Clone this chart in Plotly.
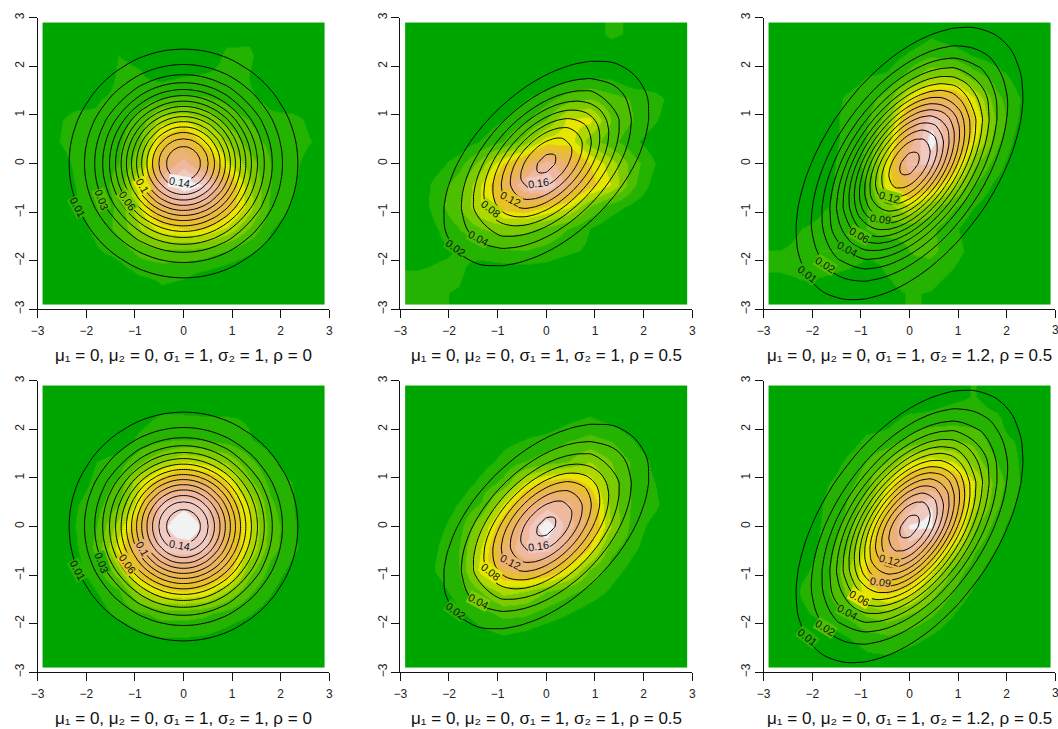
import numpy as np
import plotly.graph_objects as go

# ---- contour surfaces: density read at these grid nodes (rows y = 0 ... 3, the rest mirrors through the centre)
GRID = [-3, -2.5, -2, -1.5, -1, -.75, -.5, -.3, -.15, 0, .15, .3, .5, .75, 1, 1.5, 2, 2.5, 3]

# circular surface: rows y = 0 ... 3, columns x = 0 ... 3 (mirrors left-right as well)
DENS_A_HALF = [
 [.1592,.1574,.1522,.1405,.1202,.0966,.0517,.0215,.0070,.0018],
 [.1574,.1557,.1505,.1389,.1189,.0955,.0511,.0213,.0069,.0018],
 [.1522,.1505,.1455,.1343,.1149,.0923,.0494,.0206,.0067,.0017],
 [.1405,.1389,.1343,.1240,.1061,.0852,.0456,.0190,.0062,.0016],
 [.1202,.1189,.1149,.1061,.0907,.0729,.0390,.0162,.0053,.0014],
 [.0966,.0955,.0923,.0852,.0729,.0586,.0313,.0131,.0042,.0011],
 [.0517,.0511,.0494,.0456,.0390,.0313,.0168,.0070,.0023,.0006],
 [.0215,.0213,.0206,.0190,.0162,.0131,.0070,.0029,.0010,.0002],
 [.0070,.0069,.0067,.0062,.0053,.0042,.0023,.0010,.0003,.0001],
 [.0018,.0018,.0017,.0016,.0014,.0011,.0006,.0002,.0001,.0001],
]
DENS_A = [row[:0:-1] + row for row in DENS_A_HALF]
DENS_B = [
 [.0005,.0028,.0128,.0410,.0944,.1263,.1556,.1731,.1811,.1838,.1811,.1731,.1556,.1263,.0944,.0410,.0128,.0028,.0005],
 [.0003,.0022,.0103,.0348,.0841,.1154,.1458,.1655,.1757,.1811,.1811,.1757,.1611,.1341,.1027,.0469,.0154,.0036,.0006],
 [.0002,.0016,.0081,.0286,.0728,.1024,.1326,.1535,.1655,.1731,.1757,.1731,.1619,.1382,.1086,.0521,.0179,.0044,.0008],
 [.0001,.0010,.0056,.0211,.0572,.0833,.1115,.1326,.1458,.1556,.1611,.1619,.1556,.1373,.1115,.0572,.0211,.0056,.0010],
 [.0001,.0006,.0032,.0133,.0393,.0597,.0833,.1024,.1154,.1263,.1341,.1382,.1373,.1263,.1069,.0597,.0239,.0068,.0014],
 [.0001,.0003,.0017,.0077,.0249,.0393,.0572,.0728,.0841,.0944,.1027,.1086,.1115,.1069,.0944,.0572,.0249,.0077,.0017],
 [.0001,.0001,.0004,.0020,.0077,.0133,.0211,.0286,.0348,.0410,.0469,.0521,.0572,.0597,.0572,.0410,.0211,.0077,.0020],
 [.0001,.0001,.0001,.0004,.0017,.0032,.0056,.0081,.0103,.0128,.0154,.0179,.0211,.0239,.0249,.0211,.0128,.0056,.0017],
 [.0001,.0001,.0001,.0001,.0003,.0006,.0010,.0016,.0022,.0028,.0036,.0044,.0056,.0068,.0077,.0077,.0056,.0028,.0010],
 [.0001,.0001,.0001,.0001,.0001,.0001,.0001,.0002,.0003,.0005,.0006,.0008,.0010,.0014,.0017,.0020,.0017,.0010,.0005],
]
DENS_C = [
 [.0004,.0024,.0106,.0342,.0787,.1053,.1297,.1443,.1509,.1532,.1509,.1443,.1297,.1053,.0787,.0342,.0106,.0024,.0004],
 [.0003,.0019,.0089,.0299,.0716,.0979,.1231,.1393,.1475,.1516,.1512,.1464,.1338,.1109,.0846,.0383,.0124,.0029,.0005],
 [.0002,.0015,.0073,.0255,.0639,.0891,.1144,.1316,.1412,.1469,.1484,.1455,.1352,.1144,.0891,.0421,.0142,.0035,.0006],
 [.0001,.0011,.0054,.0201,.0531,.0761,.1005,.1182,.1289,.1365,.1401,.1397,.1327,.1155,.0925,.0462,.0165,.0042,.0008],
 [.0001,.0006,.0036,.0141,.0400,.0594,.0812,.0981,.1093,.1181,.1238,.1260,.1231,.1109,.0920,.0492,.0189,.0052,.0010],
 [.0001,.0004,.0022,.0094,.0284,.0437,.0618,.0769,.0874,.0964,.1033,.1073,.1077,.1005,.0863,.0495,.0204,.0060,.0013],
 [.0001,.0001,.0007,.0035,.0121,.0199,.0302,.0397,.0470,.0541,.0603,.0654,.0694,.0694,.0639,.0421,.0199,.0067,.0016],
 [.0001,.0001,.0002,.0010,.0041,.0072,.0117,.0162,.0200,.0240,.0280,.0316,.0355,.0380,.0375,.0284,.0154,.0060,.0017],
 [.0001,.0001,.0001,.0002,.0011,.0021,.0036,.0053,.0068,.0085,.0103,.0121,.0144,.0165,.0175,.0152,.0095,.0042,.0014],
 [.0001,.0001,.0001,.0001,.0002,.0005,.0009,.0014,.0018,.0024,.0030,.0037,.0046,.0057,.0065,.0065,.0046,.0024,.0009],
]
LEVELS_A = [.01,.02,.03,.04,.05,.06,.07,.08,.09,.10,.11,.12,.13,.14,.15]
LEVELS_B = [.02,.04,.06,.08,.10,.12,.14,.16,.18]
LEVELS_C = [.01,.02,.03,.04,.05,.06,.07,.08,.09,.10,.11,.12,.13,.14,.15]

# ---- colour-band values (0-12) of each image, rows top to bottom
HEAT_1 = [
 [0,0,0,0,0,0,0,0,.5,.6,0,0,0],
 [0,0,0,1,.8,0,0,0,1.3,1.3,0,0,0],
 [0,0,0,1.2,1.1,.7,1,1.2,1.3,1,0,0,0],
 [0,.3,.9,1.3,1.6,2,2.2,2.1,1.8,1.2,.7,0,0],
 [.6,1.6,1.2,1.6,2.3,4.5,5,4,2.6,2,1.3,1.5,.6],
 [.8,1.6,1.5,1.8,3,6.5,7.5,5.5,4,2.5,1.7,1.6,.95],
 [.2,1.2,1.7,2,3.8,8,9.5,7.5,5.2,3.6,2,1.4,.3],
 [0,1,1.6,2.3,5.5,9.8,11.8,10.9,7.5,4.3,2,1.2,0],
 [0,.9,1.4,2.2,5,8,9,8.5,7,4.6,1.8,.9,0],
 [0,.5,1.3,2.3,4,5.5,6,6,4.8,3,1.1,.3,0],
 [0,0,.9,1.4,2.4,2.9,2.8,2.6,2,1.2,.5,0,0],
 [0,0,0,.5,1.2,1.3,1.2,.9,.4,0,0,0,0],
 [0,0,0,0,0,.8,.6,0,0,0,0,0,0],
]
HEAT_2 = [
 [0,0,0,0,0,0,0,0,.3,1.3,.7,0,0],
 [0,0,0,0,0,0,0,0,0,0,0,0,0],
 [0,0,0,0,0,0,0,.6,.9,.8,0,0,0],
 [0,0,0,0,.4,.9,1.6,2.5,3,2.4,1.9,1.4,.4],
 [0,0,0,.3,1,1.7,3,5.3,5.3,3,2,1.1,.2],
 [0,0,.2,1.1,2,3.5,5.5,5.6,3.5,2.4,1.2,.4,0],
 [0,.6,1.6,3.5,6,7.5,9.5,8,6,4.5,2.5,1,0],
 [.2,1.5,2.6,5,7.5,10,11.2,8.5,6.5,5,2.2,.5,0],
 [.2,1.6,3,5,6.5,7,6,5.2,3,1.5,.7,0,0],
 [0,1,2,3,3.5,3.3,2.8,2,1,.2,0,0,0],
 [0,.7,1.1,1.5,1.9,2,1.7,1.2,.8,0,0,0,0],
 [1.1,1.3,1.2,.3,.3,.4,.3,0,0,0,0,0,0],
 [1,1.1,.9,0,0,0,0,0,0,0,0,0,0],
]
HEAT_3 = [
 [0,0,0,0,0,0,.2,.8,.4,0,0,0,0],
 [0,0,0,0,0,.4,1.2,1.8,1.5,.9,.4,0,0],
 [0,0,0,.5,1,1.2,2.5,4,4,2.5,1.5,.6,0],
 [0,0,.1,1.1,1.5,2.5,5.5,7.6,7.6,5,2.3,1.1,0],
 [0,0,.2,1.3,1.8,3.5,8,10.6,9,6,2.8,1,0],
 [0,0,.2,1.3,2,4.5,8.5,11.6,8.5,5.3,2.3,.5,0],
 [0,0,.5,1.4,2.2,5.5,10,10,7,3.2,1.5,.1,0],
 [0,0,.7,1.3,2,5.6,7.5,6.8,4.5,2,.7,0,0],
 [0,.3,.9,1.3,1.9,3.5,5,3.5,2.2,1,.2,0,0],
 [.4,1,1.3,1.7,2,2.5,2.4,2.2,1.3,.2,0,0,0],
 [1,1.3,2,2,1.3,1.2,2,2.2,1.6,.4,0,0,0],
 [1,1.3,1.2,.9,.5,1.1,1.9,1.6,.9,0,0,0,0],
 [0,.5,.3,0,0,.6,1.1,.9,.2,0,0,0,0],
]
HEAT_4 = [
 [0,0,0,0,0,0,0,0,0,0,0,0,0],
 [0,0,0,0,.6,1.2,1.2,1.1,1.1,.9,0,0,0],
 [0,0,0,.3,1.3,1.8,2,1.9,1.6,1.1,.5,0,0],
 [0,.2,1,1.5,2.8,4,5,4.6,3.8,2.3,1.2,.4,0],
 [0,.4,1.3,2.2,5,7,8.3,7.8,6,3.4,1.7,1,0],
 [0,.9,1.6,3,5.8,10.2,10.8,10.2,7.3,5,2.2,1.1,0],
 [0,1,2,4.5,7.3,10.8,11.7,10.8,7.5,5.3,2.6,1.2,.2],
 [0,.8,2.3,5.5,8,10.2,10.8,10.2,7.5,5,2.4,1.3,.2],
 [0,.6,1.6,3.8,7,8,8.2,8,7,3.5,1.7,.7,0],
 [0,.2,1,1.8,4.4,5.7,6,5.6,4,2.2,1.1,.1,0],
 [0,0,.5,1.3,1.8,2.4,2.4,2.2,1.6,1.1,.4,0,0],
 [0,0,0,.2,.8,1.1,1.1,1,.6,.1,0,0,0],
 [0,0,0,0,0,0,0,0,0,0,0,0,0],
]
HEAT_5 = [
 [0,0,0,0,0,0,0,0,0,0,0,0,0],
 [0,0,0,0,0,0,0,.7,1.1,.6,0,0,0],
 [0,0,0,0,.7,1,1.4,1.9,2.3,1.9,1,0,0],
 [0,0,0,.6,1.3,2,2.5,3,4,3,1.8,.7,0],
 [0,0,.4,1.3,2.3,5,6.5,7,5.6,3.5,1.7,1,.1],
 [0,.2,1.1,2.1,5,7.8,9.5,9.2,7.5,3.6,1.8,1.2,0],
 [0,.7,1.6,4,7,9.5,11.8,9.5,7.5,4,1.5,.6,0],
 [0,1,2,5,8,10,10.5,8.5,6,2.4,1.2,.3,0],
 [0,1.2,2,5.5,7.5,8,7.5,5.5,3,1.5,.6,0,0],
 [0,.5,1.5,3,4.3,4,3,2.3,1.6,.8,0,0,0],
 [0,0,.8,1.6,2.3,2.2,1.6,1,.4,0,0,0,0],
 [0,0,0,.6,1,.7,.2,0,0,0,0,0,0],
 [0,0,0,0,0,0,0,0,0,0,0,0,0],
]
HEAT_6 = [
 [0,0,0,0,0,0,0,.5,.8,1.05,.5,0,0],
 [0,0,0,0,.3,.6,1.3,1.3,1.5,1.4,1.2,.2,0],
 [0,0,0,.3,1.2,1.4,2.2,3,3,2.7,1.3,.9,0],
 [0,0,.1,1.1,2,3,5,5.5,5,3.5,2,1,0],
 [0,0,.8,1.5,2.6,5,7.5,8,7.5,5,2.5,1.1,0],
 [0,0,1,1.9,3.5,6,9.5,11,8,4.6,2.2,.8,0],
 [0,.2,1.1,2.2,4.5,7.5,11.2,11.3,7.2,3.2,1.5,.2,0],
 [0,.5,1.2,2.7,5.3,8.2,9.5,7.5,5,2.2,1,0,0],
 [0,.8,1.3,3.5,6,7.8,7.5,5.4,2.8,1.4,.3,0,0],
 [0,1.1,1.6,3,5.5,6.3,5.5,3.5,2,.8,0,0,0],
 [0,.8,1.3,2,3.2,3.6,3,2.2,1.1,0,0,0,0],
 [0,0,.5,1,1.7,2,1.6,1,.2,0,0,0,0],
 [0,0,0,0,.8,.9,.5,0,0,0,0,0,0],
]
BAND_COLORS = ["#00A600","#24B300","#4CBF00","#7ACC00","#ADD900","#E6E600",
               "#E8C127","#EAB64E","#ECB176","#EEB99F","#F0C9C0","#F2F2F2"]

# ---- contour labels: text, x, y, angle, band behind it
LABELS_A = [("0.14",-.09,-.39,10,11),("0.1",-.84,-.46,60,5),("0.06",-1.15,-.77,55,3),("0.03",-1.68,-.75,70,2),("0.01",-2.18,-.9,62,1)]
LABELS_D = [("0.14",-.09,-.39,10,10),("0.1",-.84,-.46,60,8),("0.06",-1.15,-.77,55,6),("0.03",-1.68,-.75,70,1),("0.01",-2.18,-.9,62,1)]
LABELS_B = [("0.16",-.16,-.40,-8,10),("0.12",-.73,-.73,28,6),("0.08",-1.14,-.94,38,4),("0.04",-1.4,-1.53,28,2),("0.02",-1.86,-1.74,35,1)]
LABELS_E = [("0.16",-.16,-.40,-8,10),("0.12",-.73,-.73,28,8),("0.08",-1.14,-.94,38,5),("0.04",-1.4,-1.53,28,3),("0.02",-1.86,-1.74,35,1)]
LABELS_C = [("0.12",-.42,-.69,15,3),("0.09",-.59,-1.14,8,2),("0.06",-1.03,-1.47,30,2),("0.04",-1.27,-1.75,28,1),("0.02",-1.72,-2.08,32,2),("0.01",-2.1,-2.27,38,1)]
LABELS_F = [("0.12",-.42,-.69,15,7),("0.09",-.59,-1.14,8,7),("0.06",-1.03,-1.47,30,5),("0.04",-1.27,-1.75,28,2),("0.02",-1.72,-2.08,32,2),("0.01",-2.1,-2.27,38,1)]

TITLE_A = "μ₁ = 0, μ₂ = 0, σ₁ = 1, σ₂ = 1, ρ = 0"
TITLE_B = "μ₁ = 0, μ₂ = 0, σ₁ = 1, σ₂ = 1, ρ = 0.5"
TITLE_C = "μ₁ = 0, μ₂ = 0, σ₁ = 1, σ₂ = 1.2, ρ = 0.5"
TICKS = [-3, -2, -1, 0, 1, 2, 3]

W, H = 1058, 729
COL_PX = [(37.7, 329.3), (400.3, 692.3), (763.7, 1055.3)]
ROW_PX = [(17.7, 309.3), (380.7, 672.3)]
TITLE_GAP = 46
TICK_GAP = 21
FONT = "Liberation Sans, Arial, sans-serif"

PANELS = [
 (0, 0, HEAT_1, DENS_A, LEVELS_A, LABELS_A, TITLE_A),
 (0, 1, HEAT_2, DENS_B, LEVELS_B, LABELS_B, TITLE_B),
 (0, 2, HEAT_3, DENS_C, LEVELS_C, LABELS_C, TITLE_C),
 (1, 0, HEAT_4, DENS_A, LEVELS_A, LABELS_D, TITLE_A),
 (1, 1, HEAT_5, DENS_B, LEVELS_B, LABELS_E, TITLE_B),
 (1, 2, HEAT_6, DENS_C, LEVELS_C, LABELS_F, TITLE_C),
]

stepped = []
for k, c in enumerate(BAND_COLORS):
    stepped += [[k / 12, c], [(k + 1) / 12, c]]

fig = go.Figure()
layout = dict(width=W, height=H, margin=dict(l=0, r=0, t=0, b=0), paper_bgcolor="white",
              plot_bgcolor="white", showlegend=False, annotations=[])
for n, (r, c, heat, dens, levels, labels, title) in enumerate(PANELS, start=1):
    sfx = "" if n == 1 else str(n)
    xa, ya = "x" + sfx, "y" + sfx
    fig.add_trace(go.Heatmap(z=heat[::-1], x0=-2.677, dx=.4462, y0=-2.677, dy=.4462, zmin=0, zmax=12,
                             colorscale=stepped, showscale=False, zsmooth="best", hoverinfo="skip",
                             xaxis=xa, yaxis=ya))
    full = np.array([row[::-1] for row in dens[:0:-1]] + dens)
    peak = full.max()
    radial = np.sqrt(np.log(peak / full))      # straighter between nodes, so contour crossings land well
    for lev in levels:
        rv = float(np.sqrt(np.log(peak / lev)))
        fig.add_trace(go.Contour(z=radial, x=GRID, y=GRID, autocontour=False,
                                 contours=dict(start=rv, end=rv, size=1, coloring="none"),
                                 line=dict(color="black", width=1, smoothing=1.3),
                                 showscale=False, hoverinfo="skip", xaxis=xa, yaxis=ya))
    axis = dict(range=[-3, 3], tickmode="array", tickvals=TICKS, ticks="outside", ticklen=8, tickwidth=1,
                tickcolor="#111", showline=True, linecolor="#111", linewidth=1, showgrid=False, zeroline=False,
                automargin=False, tickfont=dict(family=FONT, size=12, color="#222"))
    x0, x1 = COL_PX[c]
    y0, y1 = ROW_PX[r]
    layout["xaxis" + sfx] = dict(axis, domain=[x0 / W, x1 / W], anchor=ya, tickangle=0, ticklabelstandoff=2)
    layout["yaxis" + sfx] = dict(axis, domain=[1 - y1 / H, 1 - y0 / H], anchor=xa, tickangle=-90)
    layout["annotations"].append(dict(x=(x0 + x1) / 2 / W, y=1 - (y1 + TITLE_GAP) / H, xref="paper", yref="paper",
                                      text=title, showarrow=False, xanchor="center", yanchor="middle",
                                      font=dict(family=FONT, size=17, color="#111")))
    if c == 2:  # the last label runs off the page edge and the axis would drop it
        layout["annotations"].append(dict(x=x1 / W, y=1 - (y1 + TICK_GAP) / H, xref="paper", yref="paper", text="3",
                                          showarrow=False, xanchor="center", yanchor="middle",
                                          font=dict(family=FONT, size=12, color="#222")))
    for text, lx, ly, ang, band in labels:
        layout["annotations"].append(dict(x=lx, y=ly, xref=xa, yref=ya, text=text, textangle=ang, showarrow=False,
                                          font=dict(family=FONT, size=10.8, color="#111"),
                                          bgcolor=BAND_COLORS[band], borderpad=0))
fig.update_layout(**layout)
fig.write_html("out.html", config=dict(displayModeBar=False),
               post_script="document.body.style.margin='0';document.body.style.overflow='hidden';")
